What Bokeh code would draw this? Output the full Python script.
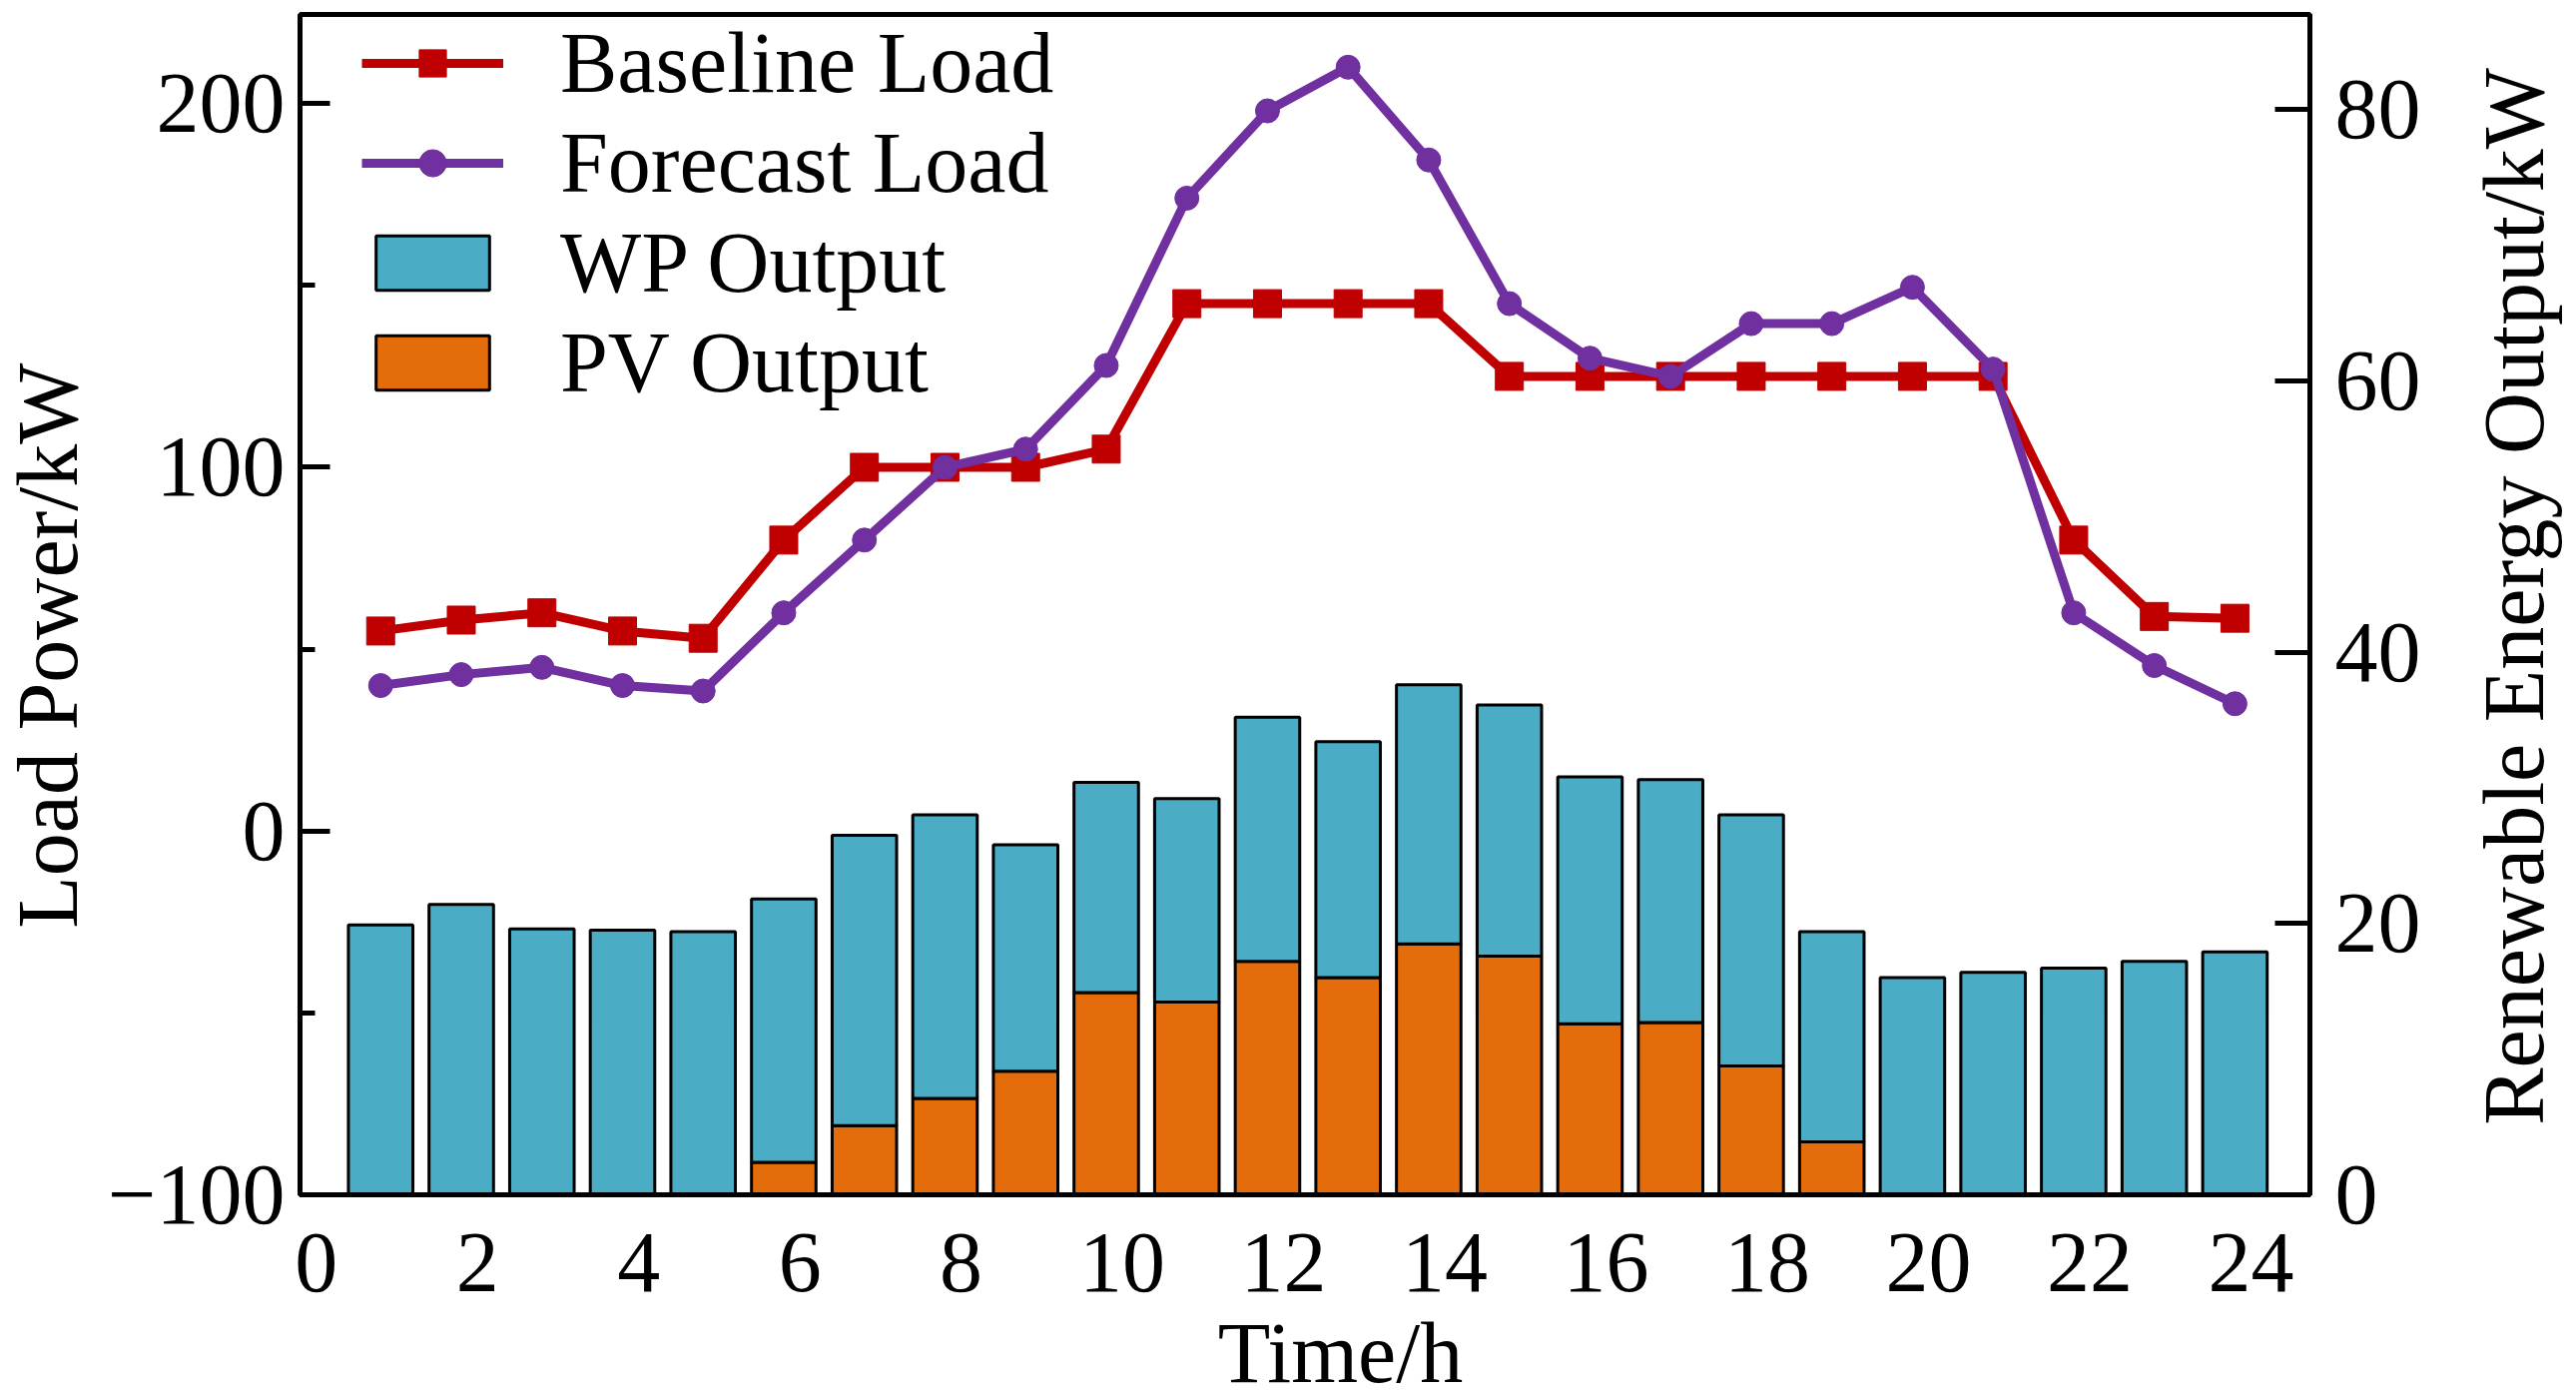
import math
from bokeh.plotting import figure
from bokeh.layouts import row, column
from bokeh.models import (ColumnDataSource, Range1d, LinearAxis, FixedTicker,
                          CustomJSTickFormatter, Legend, LegendItem)
from bokeh.core.properties import value
from bokeh.embed import file_html
from bokeh.resources import INLINE

# hourly data
hours = list(range(1, 25))
baseline_load = [55, 58, 60, 55, 53, 80, 100, 100, 100, 105, 145, 145,
                 145, 145, 125, 125, 125, 125, 125, 125, 125, 80, 59, 58.5]
forecast_load = [40, 43, 45, 40, 38.5, 60, 80, 100, 105, 128, 174, 198,
                 210, 184.5, 145, 130, 125, 139.5, 139.5, 149.5, 127, 60, 45.5, 35]
pv_output = [0, 0, 0, 0, 0, 2.4, 5.1, 7.1, 9.1, 14.9, 14.2, 17.2,
             16.0, 18.5, 17.6, 12.6, 12.7, 9.5, 3.9, 0, 0, 0, 0, 0]
wp_output = [19.9, 21.4, 19.6, 19.5, 19.4, 19.4, 21.4, 20.9, 16.7, 15.5, 15.0, 18.0,
             17.4, 19.1, 18.5, 18.2, 17.9, 18.5, 15.5, 16.0, 16.4, 16.7, 17.2, 17.9]

x_tick_labels = [0, 2, 4, 6, 8, 10, 12, 14, 16, 18, 20, 22, 24]
left_ticks = [-100, 0, 100, 200]
left_minor_ticks = [-50, 50, 150]
right_ticks = [0, 20, 40, 60, 80]

FONT = "Liberation Serif"
FS = "86px"
RED = "#C00000"
PURPLE = "#7030A0"
BLUE = "#4BACC6"
ORANGE = "#E46C0A"

TOP_H = 1320      # height of the row holding the plot
BOTTOM_H = 77     # strip under it for the x title
LEFT_W = 100
RIGHT_W = 140

source = ColumnDataSource(data=dict(hour=hours, baseline=baseline_load,
                                    forecast=forecast_load, pv=pv_output, wp=wp_output))

p = figure(width=2580 - LEFT_W - RIGHT_W, height=TOP_H, output_backend="svg",
           toolbar_location=None,
           x_range=Range1d(0, 24.93), y_range=Range1d(-100, 224.5),
           min_border_left=200, min_border_right=127, min_border_top=14,
           min_border_bottom=TOP_H - 1196)
p.extra_y_ranges = {"renew": Range1d(0, 87)}
p.xgrid.visible = False
p.ygrid.visible = False
p.outline_line_color = "black"
p.outline_line_width = 5

# stacked bars on the right axis
bars = p.vbar_stack(["pv", "wp"], x="hour", width=0.8, source=source,
                    y_range_name="renew", color=[ORANGE, BLUE],
                    line_color="black", line_width=3)

# load curves on the left axis
base_line = p.line("hour", "baseline", source=source, line_color=RED, line_width=9)
base_pts = p.scatter("hour", "baseline", source=source, marker="square", size=28,
                     fill_color=RED, line_color=RED)
fc_line = p.line("hour", "forecast", source=source, line_color=PURPLE, line_width=9)
fc_pts = p.scatter("hour", "forecast", source=source, marker="circle", size=24,
                   fill_color=PURPLE, line_color=PURPLE)

# bottom axis: labels sit slightly right of the bar centres
xax = p.xaxis[0]
xax.ticker = FixedTicker(ticks=[t + 0.2 for t in x_tick_labels])
xax.formatter = CustomJSTickFormatter(code="return Math.round(tick).toString();")
xax.major_tick_in = 0
xax.major_tick_out = 0
xax.minor_tick_line_color = None
xax.major_label_standoff = 39

yax = p.yaxis[0]
yax.ticker = FixedTicker(ticks=left_ticks, minor_ticks=left_minor_ticks)
yax.formatter = CustomJSTickFormatter(
    code="return tick < 0 ? '\\u2212' + Math.abs(tick) : tick.toString();")
yax.major_tick_in = 30
yax.major_tick_out = 0
yax.minor_tick_in = 15
yax.minor_tick_out = 0
yax.major_label_standoff = 15

rax = LinearAxis(y_range_name="renew", ticker=FixedTicker(ticks=right_ticks))
rax.major_tick_in = 35
rax.major_tick_out = 0
rax.minor_tick_line_color = None
rax.major_label_standoff = 25
p.add_layout(rax, "right")

for ax in [xax, yax, rax]:
    ax.axis_line_width = 5
    ax.axis_line_color = "black"
    ax.major_tick_line_width = 5
    ax.minor_tick_line_width = 5
    ax.major_label_text_font = FONT
    ax.major_label_text_font_size = FS
    ax.major_label_text_color = "black"

legend = Legend(items=[
    LegendItem(label="Baseline Load", renderers=[base_line, base_pts]),
    LegendItem(label="Forecast Load", renderers=[fc_line, fc_pts]),
    LegendItem(label="WP Output", renderers=[bars[1]]),
    LegendItem(label="PV Output", renderers=[bars[0]]),
], location=(62, 783))
legend.glyph_width = 142
legend.glyph_height = 68
legend.label_standoff = 57
legend.spacing = 0
legend.padding = 0
legend.margin = 0
legend.border_line_color = None
legend.background_fill_alpha = 0
legend.label_text_font = FONT
legend.label_text_font_size = FS
legend.label_text_color = "black"
p.add_layout(legend)


# axis titles live in thin text-only figures around the plot
def title_strip(w, h, x, y, text, angle):
    q = figure(width=w, height=h, output_backend="svg", toolbar_location=None,
               x_range=Range1d(0, w), y_range=Range1d(0, h),
               x_axis_location=None, y_axis_location=None, min_border=0)
    q.grid.visible = False
    q.outline_line_color = None
    q.text(x=[x], y=[y], text=[text], angle=angle, text_align="center",
           text_baseline="alphabetic", text_font=value(FONT),
           text_font_size=value(FS), text_color="black")
    return q


left_title = title_strip(LEFT_W, TOP_H, 47, TOP_H - 706, "Load Power/kW", math.pi / 2)
right_title = title_strip(RIGHT_W, TOP_H, 77, TOP_H - 651,
                          "Renewable Energy Output/kW", math.pi / 2)
bottom_title = title_strip(2580, BOTTOM_H, 1342, 43, "Time/h", 0)

layout = column(row(left_title, p, right_title), bottom_title)
open("out.html", "w").write(file_html(layout, INLINE))
